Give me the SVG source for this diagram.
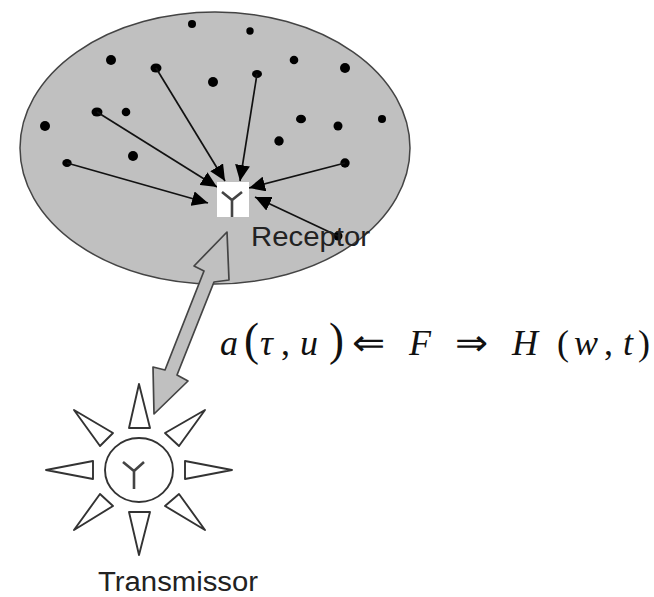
<svg xmlns="http://www.w3.org/2000/svg" width="654" height="597" viewBox="0 0 654 597">
<style>
.d{fill:#000}
.a{fill:none;stroke:#111;stroke-width:1.7;marker-end:url(#h)}
.t{fill:#fff;stroke:#333;stroke-width:1.9;stroke-linejoin:round}
.y{fill:none;stroke:#444;stroke-width:2.6}
.l{font-family:"Liberation Sans",Arial,sans-serif;font-size:27px;fill:#222}
.m{font-family:"Liberation Serif","Times New Roman",serif;font-size:36px;fill:#111}
.i{font-style:italic}
</style>
<defs><marker id="h" markerUnits="userSpaceOnUse" markerWidth="17" markerHeight="15" refX="16" refY="7.5" orient="auto"><path d="M0 0L16 7.5L0 15Z" fill="#000"/></marker></defs>
<rect width="654" height="597" fill="#fff"/>
<g id="receptor-area">
<ellipse cx="215" cy="148" rx="195" ry="136" fill="#c0c0c0" stroke="#444" stroke-width="1.5"/>
<g class="d"><circle cx="192" cy="24" r="4"/><circle cx="250" cy="31" r="3.7"/><circle cx="111" cy="60" r="5"/><ellipse cx="156" cy="68" rx="5.5" ry="4.5"/><circle cx="213" cy="82" r="5"/><ellipse cx="257" cy="74" rx="5" ry="4"/><circle cx="294" cy="60" r="4.3"/><circle cx="345" cy="68" r="5"/><ellipse cx="97" cy="112" rx="5.5" ry="4.5"/><circle cx="126" cy="112" r="4.3"/><circle cx="45" cy="126" r="5"/><circle cx="133" cy="156" r="5"/><ellipse cx="67" cy="163" rx="4.7" ry="4"/><ellipse cx="301" cy="119" rx="5" ry="4.3"/><circle cx="338" cy="126" r="4.5"/><circle cx="382" cy="119" r="4"/><circle cx="279" cy="141" r="4.7"/><circle cx="345" cy="163" r="4.7"/><circle cx="338" cy="236" r="4.5"/></g>
</g>
<g id="connectors">
<line class="a" x1="156" y1="68" x2="225" y2="181"/>
<line class="a" x1="97" y1="112" x2="217" y2="187"/>
<line class="a" x1="67" y1="163" x2="208" y2="203"/>
<line class="a" x1="257" y1="74" x2="240" y2="181"/>
<line class="a" x1="345" y1="163" x2="249" y2="188"/>
<line class="a" x1="338" y1="236" x2="255" y2="197"/>
<path id="link" d="M227 232L194 266L204 271L165 370L153 367L154 414L188 381L177 375L214 282L229 280Z" fill="#c0c0c0" stroke="#444" stroke-width="1.7" stroke-linejoin="round"/>
</g>
<g id="receptor">
<rect x="217" y="182" width="32" height="35" fill="#fff"/>
<path class="y" d="M222 192L232 200L242 192M232 200V217"/>
<text class="l" x="251" y="246" textLength="119" lengthAdjust="spacingAndGlyphs">Receptor</text>
</g>
<g id="transmissor">
<ellipse cx="139" cy="470" rx="34" ry="32" fill="#fff" stroke="#333" stroke-width="1.9"/>
<path class="y" d="M123 462L134 471L144 462M134 471V489"/>
<polygon class="t" points="139,384 129,428 150,428"/>
<polygon class="t" points="139,555 129,512 150,512"/>
<polygon class="t" points="46,470 93,461 93,479"/>
<polygon class="t" points="232,470 185,461 185,479"/>
<polygon class="t" points="74,410 113,433 100,446"/>
<polygon class="t" points="205,410 165,433 179,446"/>
<polygon class="t" points="74,530 113,506 100,494"/>
<polygon class="t" points="205,530 165,506 179,494"/>
<text class="l" x="98" y="591" textLength="160" lengthAdjust="spacingAndGlyphs">Transmissor</text>
</g>
<g id="formula">
<text class="m i" x="220" y="355">a</text>
<text class="m" transform="translate(244 355) scale(1.25 1.3)">(</text>
<text class="m i" x="260" y="355">τ</text>
<text class="m" x="281" y="355">,</text>
<text class="m i" x="300" y="355">u</text>
<text class="m" transform="translate(329 355) scale(1.25 1.3)">)</text>
<text class="m" x="352" y="355" textLength="33" lengthAdjust="spacingAndGlyphs">⇐</text>
<text class="m i" x="409" y="355">F</text>
<text class="m" x="455" y="355" textLength="33" lengthAdjust="spacingAndGlyphs">⇒</text>
<text class="m i" x="512" y="355">H</text>
<text class="m" x="557" y="355">(</text>
<text class="m i" x="574" y="355">w</text>
<text class="m" x="604" y="355">,</text>
<text class="m i" x="623" y="355">t</text>
<text class="m" x="638" y="355">)</text>
</g>
</svg>
